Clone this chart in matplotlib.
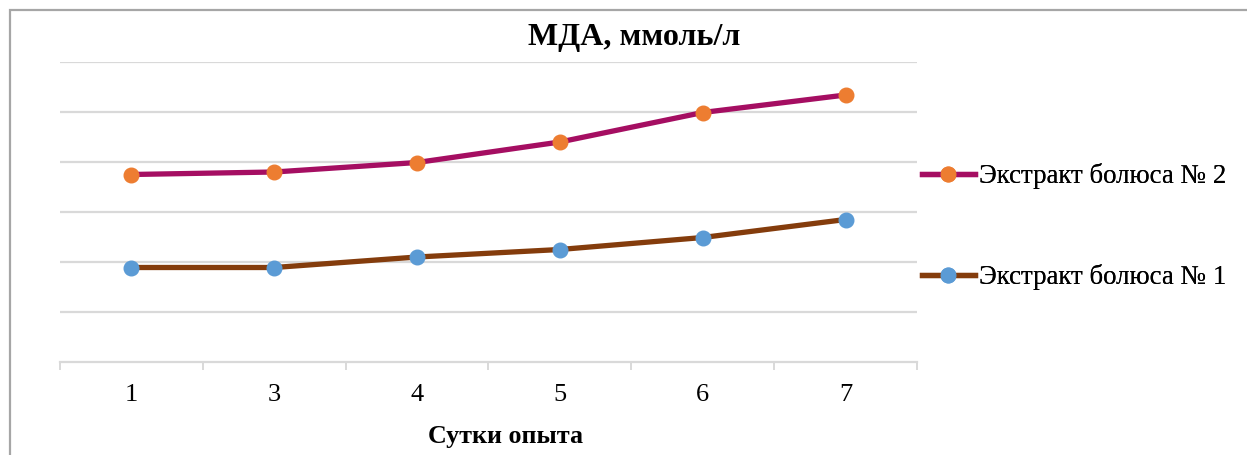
import matplotlib
matplotlib.use("Agg")
import matplotlib.pyplot as plt
from matplotlib.patches import Rectangle
from matplotlib.lines import Line2D

plt.rcParams['font.family'] = ['Liberation Serif', 'DejaVu Serif']

# MDA by day of the experiment
days = ["1", "3", "4", "5", "6", "7"]
bolus2 = [3.75, 3.80, 3.99, 4.40, 4.99, 5.34]
bolus1 = [1.89, 1.89, 2.10, 2.25, 2.49, 2.85]
labels = ["Экстракт болюса № 2", "Экстракт болюса № 1"]

grid_color = "#D9D9D9"
line_w = 3.8

fig = plt.figure(figsize=(12.47, 4.55), dpi=100)
ax = fig.add_axes([60 / 1247, 93 / 455, 857 / 1247, 300 / 455])

x = range(len(days))
ax.plot(x, bolus2, color="#A50E62", lw=line_w, marker="o", ms=10.5,
        mfc="#ED7D31", mec="#ED7D31", solid_capstyle="round", zorder=3)
ax.plot(x, bolus1, color="#843C0C", lw=line_w, marker="o", ms=10.5,
        mfc="#5B9BD5", mec="#5B9BD5", solid_capstyle="round", zorder=3)

ax.set_xlim(-0.5, len(days) - 0.5)
ax.set_ylim(0, 6)
ax.set_yticks(range(1, 7))
ax.yaxis.grid(True, color=grid_color, lw=1.6)
ax.tick_params(axis="y", left=False, labelleft=False)
ax.set_axisbelow(True)

ax.set_xticks(list(x))
ax.set_xticklabels(days, fontsize=19)
ax.set_xticks([i - 0.5 for i in range(len(days) + 1)], minor=True)
ax.tick_params(axis="x", which="major", length=0, pad=16)
ax.tick_params(axis="x", which="minor", length=6, width=1.4, color=grid_color)

for side in ["top", "right", "left"]:
    ax.spines[side].set_visible(False)
ax.spines["bottom"].set_color(grid_color)
ax.spines["bottom"].set_linewidth(1.6)

ax.set_xlabel("Сутки опыта", fontsize=18.7, fontweight="bold")
ax.xaxis.set_label_coords(445 / 857, -74 / 300)
ax.xaxis.label.set_va("center")
fig.text(634 / 1247, 1 - 38 / 455, "МДА, ммоль/л", fontsize=23,
         fontweight="bold", ha="center", va="center")

# legend entries, one per row
handles = [
    Line2D([], [], color="#A50E62", lw=line_w, marker="o", ms=10.5,
           mfc="#ED7D31", mec="#ED7D31"),
    Line2D([], [], color="#843C0C", lw=line_w, marker="o", ms=10.5,
           mfc="#5B9BD5", mec="#5B9BD5"),
]
for h, lab, ypix in zip(handles, labels, [176, 277]):
    leg = fig.legend([h], [lab], loc="center left",
                     bbox_to_anchor=(922 / 1247, 1 - ypix / 455),
                     frameon=False, fontsize=19.4, handlelength=1.95,
                     handletextpad=0.15, borderpad=0, borderaxespad=0)
    fig.add_artist(leg)

# outer chart border
fig.patches.append(Rectangle((10 / 1247, -0.1), 1.2, 1.1 - 10 / 455,
                             transform=fig.transFigure, fill=False,
                             ec="#A6A6A6", lw=1.6, clip_on=False))

fig.savefig("out.png", dpi=100)
